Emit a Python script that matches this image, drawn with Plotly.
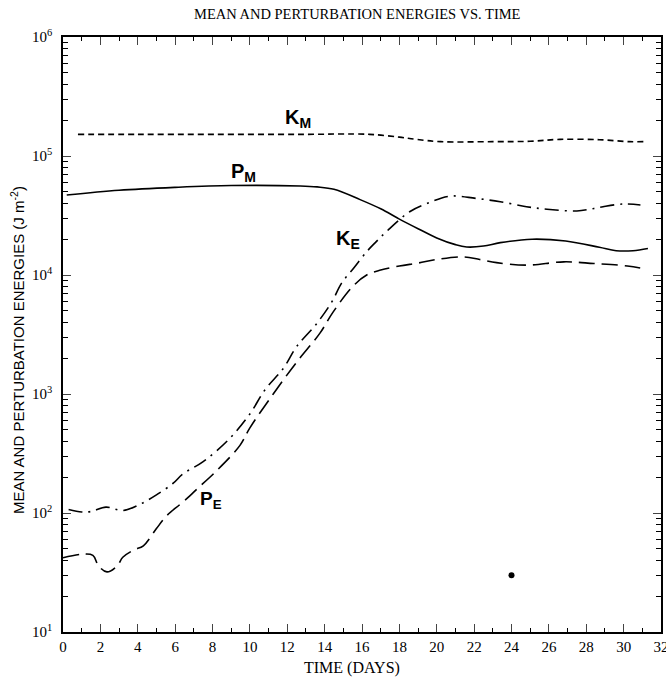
import math
import plotly.graph_objects as go

# ---- data ----
km_days = [0.8, 4, 8, 12.7, 16.4, 18.0, 18.9, 20.2, 23.0, 25.0, 26.6, 28.7, 30.3, 31.1]
km_vals = [1.52e5, 1.52e5, 1.52e5, 1.52e5, 1.52e5, 1.44e5, 1.38e5, 1.32e5, 1.32e5, 1.33e5, 1.38e5, 1.37e5, 1.32e5, 1.32e5]

pm_days = [0.2, 3, 6, 9, 12.7, 13.6, 14.5, 15.9, 17.0, 18.0, 19.0, 20.0, 21.0, 21.6, 22.5, 23.4, 25.1, 26.9, 28.7, 29.6, 30.5, 31.3]
pm_vals = [4.7e4, 5.15e4, 5.45e4, 5.65e4, 5.6e4, 5.5e4, 5.25e4, 4.3e4, 3.6e4, 2.95e4, 2.45e4, 2.05e4, 1.8e4, 1.72e4, 1.75e4, 1.87e4, 2.0e4, 1.93e4, 1.71e4, 1.6e4, 1.6e4, 1.67e4]

ke_days = [0.3, 1.0, 1.5, 2.3, 3.2, 4.1, 5.0, 5.9, 6.4, 7.5, 8.9, 10.0, 10.8, 11.8, 12.5, 13.6, 14.4, 14.9, 15.55, 16.25, 16.75, 17.3, 18.55, 19.5, 20.7, 22.1, 23.4, 24.8, 25.9, 27.5, 28.2, 28.9, 30.0, 30.9]
ke_vals = [107, 102, 103, 112, 105, 118, 142, 178, 212, 270, 420, 680, 1080, 1650, 2500, 3950, 6000, 8500, 11400, 15700, 19000, 23100, 34000, 40000, 46000, 44000, 41300, 37500, 35700, 34500, 35700, 37500, 39500, 38800]

pe_days = [0.0, 1.0, 1.6, 1.9, 2.35, 2.9, 3.2, 3.8, 4.3, 5.0, 5.55, 6.26, 6.8, 7.15, 8.2, 9.47, 10.0, 11.25, 12.5, 13.75, 14.46, 15.5, 16.25, 17.0, 18.0, 19.0, 20.0, 21.4, 22.3, 23.2, 24.8, 26.8, 28.4, 30.2, 31.2]
pe_vals = [42, 45, 44, 36, 32, 36, 42.5, 49, 53, 74, 95, 118, 140, 158, 225, 370, 520, 1000, 1850, 3250, 4900, 8000, 10000, 11000, 11900, 12600, 13500, 14200, 13500, 12700, 12100, 12900, 12500, 11900, 11200]

spot_day = [24.0]
spot_val = [30]

x_ticks = list(range(0, 33, 2))
y_ticks = [1e1, 1e2, 1e3, 1e4, 1e5, 1e6]
y_ticktext = ["10<sup>1</sup>", "10<sup>2</sup>", "10<sup>3</sup>", "10<sup>4</sup>", "10<sup>5</sup>", "10<sup>6</sup>"]
y_minor = [k * 10 ** n for n in range(1, 6) for k in range(2, 10)]

fig = go.Figure()
line_w = 1.6
fig.add_trace(go.Scatter(x=km_days, y=km_vals, mode="lines", line=dict(color="black", width=line_w, dash="6px,4px", shape="spline"), name="KM"))
fig.add_trace(go.Scatter(x=pm_days, y=pm_vals, mode="lines", line=dict(color="black", width=line_w, shape="spline"), name="PM"))
fig.add_trace(go.Scatter(x=ke_days, y=ke_vals, mode="lines", line=dict(color="black", width=line_w, dash="14px,6px,2px,6px", shape="spline"), name="KE"))
fig.add_trace(go.Scatter(x=pe_days, y=pe_vals, mode="lines", line=dict(color="black", width=line_w, dash="16px,7px", shape="spline"), name="PE"))
fig.add_trace(go.Scatter(x=spot_day, y=spot_val, mode="markers", marker=dict(color="black", size=6), name="spot"))

serif = "Liberation Serif"
sans = "Liberation Sans"

annots = []
def lab(x, y, main, sub, size=20):
    annots.append(dict(x=x, y=y, xref="x", yref="y", showarrow=False, xanchor="center", yanchor="middle",
                       text="<b>%s</b><sub><b>%s</b></sub>" % (main, sub),
                       font=dict(family=sans, size=size, color="black")))

lab(12.6, math.log10(2.05e5), "K", "M")
lab(9.65, math.log10(7.3e4), "P", "M")
lab(15.25, math.log10(1.97e4), "K", "E")
lab(7.9, math.log10(128), "P", "E", 19)

annots.append(dict(x=0.492, y=1.039, xref="paper", yref="paper", showarrow=False, xanchor="center", yanchor="middle",
                   text="MEAN AND PERTURBATION ENERGIES VS. TIME",
                   font=dict(family=serif, size=14.5, color="black")))
annots.append(dict(x=0.483, y=-0.0605, xref="paper", yref="paper", showarrow=False, xanchor="center", yanchor="middle",
                   text="TIME (DAYS)", font=dict(family=serif, size=16, color="black")))
annots.append(dict(x=-0.075, y=0.474, xref="paper", yref="paper", showarrow=False, textangle=-90,
                   xanchor="center", yanchor="middle",
                   text="MEAN AND PERTURBATION ENERGIES (J m<sup>-2</sup>)",
                   font=dict(family=sans, size=15, color="black")))

fig.update_layout(
    width=666, height=681, autosize=False,
    margin=dict(l=63, r=5, t=37, b=49, autoexpand=False),
    paper_bgcolor="white", plot_bgcolor="white",
    showlegend=False,
    annotations=annots,
    font=dict(family=serif, size=14, color="black"),
)
fig.update_xaxes(range=[0, 32], tickvals=x_ticks, ticks="inside", ticklen=8, tickwidth=1.2,
                 showline=True, linecolor="black", linewidth=1.5, mirror="ticks", showgrid=False, zeroline=False,
                 ticklabeloverflow="allow", automargin=False,
                 tickfont=dict(family=serif, size=15, color="black"),
                 minor=dict(dtick=1, ticks="inside", ticklen=4, tickwidth=1.2, tickcolor="black", showgrid=False))
fig.update_yaxes(type="log", range=[1, 6], tickvals=y_ticks, ticktext=y_ticktext, ticks="inside", ticklen=8, tickwidth=1.2,
                 showline=True, linecolor="black", linewidth=1.5, mirror="ticks", showgrid=False, zeroline=False,
                 ticklabelstandoff=6, ticklabeloverflow="allow", automargin=False,
                 tickfont=dict(family=serif, size=15, color="black"),
                 minor=dict(tickvals=y_minor, ticks="inside", ticklen=5, tickwidth=1.2, tickcolor="black", showgrid=False))

fig.write_html("out.html", config={"displayModeBar": False},
               post_script="document.body.style.margin='0';document.body.style.overflow='hidden';")
